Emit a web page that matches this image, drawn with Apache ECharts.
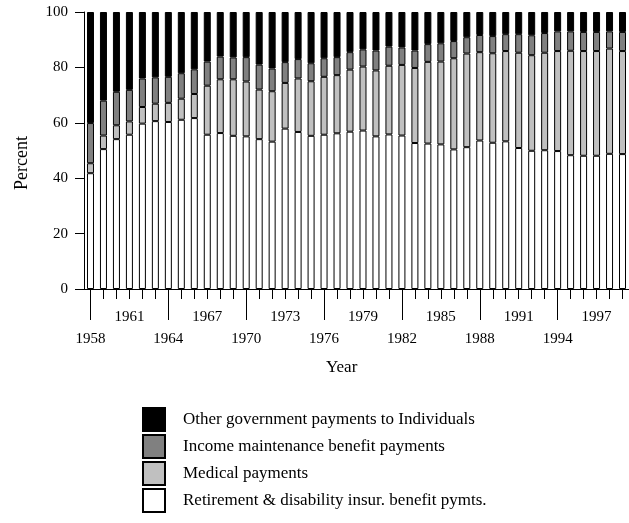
<!DOCTYPE html>
<html>
<head>
<meta charset="utf-8">
<script src="https://cdn.jsdelivr.net/npm/echarts@6/dist/echarts.min.js"></script>
<style>html,body{margin:0;padding:0;background:#fff;}#c{width:629px;height:523px;}</style>
</head>
<body>
<div id="c"></div>
<script>
var years = [];
for (var y = 1958; y <= 1999; y++) years.push(String(y));

var retirement = [41.8,50.5,54.1,55.7,59.7,60.6,60.3,61.1,61.7,55.7,56.3,55.3,55.1,54.1,53.2,57.9,56.7,55.3,55.7,56.2,56.8,57.2,55.1,55.8,55.4,52.7,52.5,52.2,50.4,51.2,53.6,52.8,53.3,50.9,49.9,50.1,49.8,48.3,48.1,48.1,48.8,48.7];
var medical = [3.6,4.9,5.0,4.8,6.0,6.3,6.9,7.6,8.7,17.7,19.4,20.4,19.8,17.9,18.2,16.5,19.3,19.7,20.9,21.0,22.4,23.1,23.8,24.8,25.5,27.1,29.5,29.9,32.9,33.8,31.9,32.3,32.6,34.4,34.5,35.2,36.1,37.7,37.8,37.8,38.0,37.2];
var income = [14.5,12.6,12.1,11.4,10.3,9.5,9.4,9.2,8.9,8.7,8.2,7.9,8.8,9.0,8.2,7.5,7.0,6.5,6.7,6.5,6.3,6.2,7.2,6.9,6.3,6.3,6.4,6.6,6.2,5.9,6.2,6.2,6.1,6.7,7.2,7.1,7.1,7.0,6.9,6.9,6.2,6.9];
var other = [40.1,32.0,28.8,28.1,24.0,23.6,23.4,22.1,20.7,17.9,16.1,16.4,16.3,19.0,20.4,18.1,17.0,18.5,16.7,16.3,14.5,13.5,13.9,12.5,12.8,13.9,11.6,11.3,10.5,9.1,8.3,8.7,8.0,8.0,8.4,7.6,7.0,7.0,7.2,7.2,7.0,7.2];
var yTicks = [0, 20, 40, 60, 80, 100];

var names = ['Retirement & disability insur. benefit pymts.', 'Medical payments', 'Income maintenance benefit payments', 'Other government payments to Individuals'];
var colors = ['#ffffff', '#c0c0c0', '#808080', '#000000'];
var values = [retirement, medical, income, other];
var FONT = 'Liberation Serif';

var series = names.map(function (n, i) {
  return {
    name: n, type: 'bar', stack: 'all', barWidth: 7,
    data: values[i],
    itemStyle: { color: colors[i], borderColor: '#000', borderWidth: 1 },
    emphasis: { disabled: true }
  };
});

var chart = echarts.init(document.getElementById('c'), null, { renderer: 'canvas' });
chart.setOption({
  animation: false,
  backgroundColor: '#fff',
  textStyle: { fontFamily: FONT, color: '#000' },
  grid: { left: 84, right: 0, top: 12, bottom: 234 },
  xAxis: [{
    type: 'category', data: years, boundaryGap: true,
    axisLine: { show: true, lineStyle: { color: '#000', width: 1 } },
    axisTick: { show: true, alignWithLabel: true, interval: 0, length: 10, lineStyle: { color: '#000' } },
    axisLabel: {
      show: true,
      interval: function (i) { return i % 6 === 3; },
      margin: 21, fontFamily: FONT, fontSize: 15, color: '#000'
    },
    splitLine: { show: false }
  }, {
    type: 'category', data: years, boundaryGap: true, position: 'bottom',
    gridIndex: 0,
    axisLine: { show: false },
    axisTick: { show: true, alignWithLabel: true, interval: function (i) { return i % 6 === 0; }, length: 31, lineStyle: { color: '#000' } },
    axisLabel: {
      show: true,
      interval: function (i) { return i % 6 === 0; },
      margin: 43, fontFamily: FONT, fontSize: 15, color: '#000'
    },
    splitLine: { show: false }
  }],
  yAxis: {
    type: 'value', min: 0, max: 100, interval: 20,
    axisLine: { show: true, lineStyle: { color: '#000' } },
    axisTick: { show: true, length: 9, lineStyle: { color: '#000' } },
    axisLabel: { margin: 16, fontFamily: FONT, fontSize: 15, color: '#000',
      formatter: function (v) { return yTicks.indexOf(v) >= 0 ? String(v) : ''; } },
    splitLine: { show: false }
  },
  legend: {
    orient: 'vertical', left: 137, top: 402, width: 480, height: 118,
    icon: 'rect',
    itemWidth: 22, itemHeight: 23, itemGap: 2,
    data: [names[3], names[2], names[1], names[0]],
    textStyle: { fontFamily: FONT, fontSize: 17, lineHeight: 20, color: '#000', padding: [0, 0, 0, 13] },
    selectedMode: false
  },
  graphic: [
    { type: 'text', left: 326, top: 359, style: { text: 'Year', fontFamily: FONT, fontSize: 17, fill: '#000' } },
    { type: 'text', x: 22, y: 163, rotation: Math.PI / 2, style: { text: 'Percent', fontFamily: FONT, fontSize: 18, fill: '#000', align: 'center', verticalAlign: 'middle' } }
  ],
  series: series
});
</script>
</body>
</html>
